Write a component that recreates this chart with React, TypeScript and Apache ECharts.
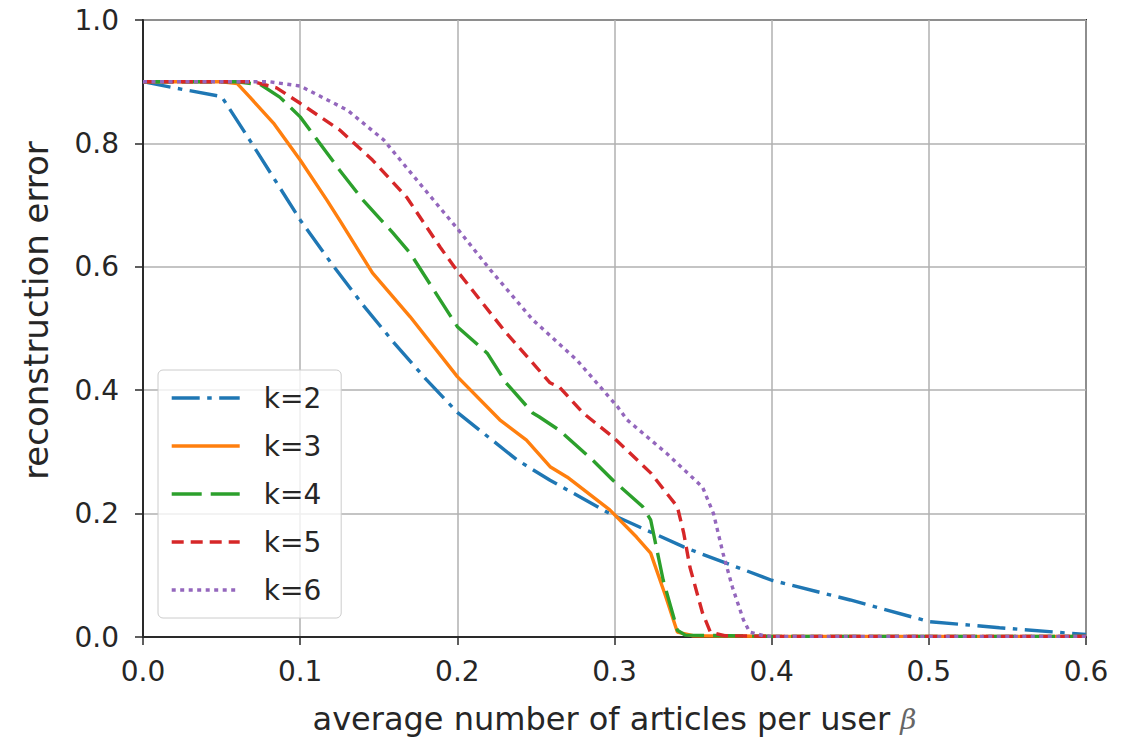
import React, { useEffect, useRef } from "react";
import * as echarts from "echarts";

const seriesNames = ["k=2", "k=3", "k=4", "k=5", "k=6"];
const colors = ["#1f77b4", "#ff7f0e", "#2ca02c", "#d62728", "#9467bd"];

const xK2 = [0, 0.02, 0.05, 0.068, 0.1, 0.12, 0.14, 0.16, 0.18, 0.2, 0.238, 0.259, 0.297, 0.344, 0.354, 0.4, 0.45, 0.5, 0.545, 0.6];
const yK2 = [0.9, 0.89, 0.876, 0.805, 0.676, 0.605, 0.538, 0.476, 0.418, 0.364, 0.287, 0.254, 0.2, 0.146, 0.136, 0.092, 0.06, 0.025, 0.015, 0.004];

const xK3 = [0, 0.05, 0.06, 0.068, 0.083, 0.1, 0.117, 0.125, 0.146, 0.17, 0.2, 0.227, 0.244, 0.259, 0.27, 0.297, 0.314, 0.323, 0.332, 0.34, 0.35, 0.4, 0.5, 0.6];
const yK3 = [0.9, 0.9, 0.897, 0.875, 0.833, 0.773, 0.708, 0.676, 0.59, 0.519, 0.422, 0.352, 0.319, 0.276, 0.259, 0.206, 0.162, 0.136, 0.07, 0.008, 0.002, 0.001, 0.001, 0.001];

const xK4 = [0, 0.06, 0.075, 0.087, 0.1, 0.125, 0.14, 0.159, 0.17, 0.2, 0.219, 0.231, 0.248, 0.252, 0.265, 0.286, 0.299, 0.318, 0.323, 0.331, 0.34, 0.345, 0.4, 0.6];
const yK4 = [0.9, 0.9, 0.895, 0.875, 0.843, 0.757, 0.708, 0.655, 0.622, 0.503, 0.46, 0.412, 0.363, 0.357, 0.335, 0.287, 0.254, 0.211, 0.19, 0.092, 0.011, 0.003, 0.001, 0.001];

const xK5 = [0, 0.07, 0.085, 0.1, 0.125, 0.146, 0.168, 0.189, 0.2, 0.231, 0.259, 0.265, 0.28, 0.3, 0.323, 0.34, 0.344, 0.348, 0.356, 0.361, 0.37, 0.4, 0.6];
const yK5 = [0.9, 0.9, 0.89, 0.865, 0.822, 0.773, 0.712, 0.632, 0.593, 0.493, 0.412, 0.405, 0.363, 0.322, 0.266, 0.211, 0.169, 0.113, 0.039, 0.008, 0.002, 0.001, 0.001];

const xK6 = [0, 0.08, 0.1, 0.13, 0.153, 0.178, 0.2, 0.221, 0.248, 0.276, 0.302, 0.308, 0.333, 0.356, 0.363, 0.369, 0.375, 0.382, 0.386, 0.395, 0.4, 0.6];
const yK6 = [0.9, 0.9, 0.893, 0.854, 0.806, 0.729, 0.662, 0.595, 0.514, 0.449, 0.373, 0.352, 0.298, 0.243, 0.2, 0.136, 0.081, 0.028, 0.008, 0.002, 0.001, 0.001];

const xValues = [xK2, xK3, xK4, xK5, xK6];
const yValues = [yK2, yK3, yK4, yK5, yK6];
const dashes: any[] = [[28, 7.5, 4.5, 7.5], "solid", [30, 9], [12, 7], [4, 4.5]];

const xAxisName = "average number of articles per user ";
const yAxisName = "reconstruction error";

const FONT = "DejaVu Sans";
const TXT = "#262626";

export default function App() {
  const ref = useRef<HTMLDivElement>(null);
  useEffect(() => {
    document.body.style.margin = "0";
    const chart = echarts.init(ref.current!, null, { renderer: "svg" });
    const series = seriesNames.map((name, i) => ({
      name,
      type: "line",
      data: xValues[i].map((x, j) => [x, yValues[i][j]]),
      showSymbol: false,
      symbol: "none",
      z: 2 + i,
      lineStyle: { color: colors[i], width: 3.4, type: dashes[i], cap: "butt" },
      itemStyle: { color: colors[i] },
      emphasis: { disabled: true },
    }));
    chart.setOption({
      animation: false,
      backgroundColor: "#ffffff",
      grid: {
        left: 143,
        right: 52,
        top: 20,
        bottom: 104,
        show: true,
        borderColor: "#2a2a2a",
        borderWidth: 2,
        backgroundColor: "transparent",
      },
      legend: {
        orient: "vertical",
        left: 158,
        top: 370,
        itemWidth: 68,
        itemHeight: 28,
        itemGap: 20,
        padding: [14, 20, 14, 12],
        backgroundColor: "rgba(255,255,255,0.8)",
        borderColor: "#cccccc",
        borderWidth: 1,
        borderRadius: 5,
        itemStyle: { opacity: 0 },
        lineStyle: { width: 3.4 },
        textStyle: { fontFamily: FONT, fontSize: 28, color: TXT, padding: [0, 0, 0, 19] },
        data: seriesNames,
      },
      xAxis: {
        type: "value",
        min: 0,
        max: 0.6,
        interval: 0.1,
        name: xAxisName + "{b|β}",
        nameLocation: "middle",
        nameGap: 66,
        nameTextStyle: {
          fontFamily: FONT,
          fontSize: 32,
          color: TXT,
          rich: { b: { fontFamily: "DejaVu Serif", fontStyle: "italic", fontSize: 28, color: "#666" } },
        },
        axisLine: { show: true, lineStyle: { color: "#2a2a2a", width: 2 } },
        axisTick: { show: true, inside: false, length: 8, lineStyle: { color: "#2a2a2a", width: 1.5 } },
        axisLabel: {
          fontFamily: FONT,
          fontSize: 28,
          color: TXT,
          margin: 20,
          formatter: (v: number) => v.toFixed(1),
        },
        splitLine: { show: true, lineStyle: { color: "#b0b0b0", width: 1.5 } },
      },
      yAxis: {
        type: "value",
        min: 0,
        max: 1,
        interval: 0.2,
        name: yAxisName,
        nameLocation: "middle",
        nameGap: 90,
        nameTextStyle: { fontFamily: FONT, fontSize: 34, color: TXT, padding: [0, 0, 0, 36] },
        axisLine: { show: true, lineStyle: { color: "#2a2a2a", width: 2 } },
        axisTick: { show: true, inside: false, length: 8, lineStyle: { color: "#2a2a2a", width: 1.5 } },
        axisLabel: {
          fontFamily: FONT,
          fontSize: 28,
          color: TXT,
          margin: 24,
          formatter: (v: number) => v.toFixed(1),
        },
        splitLine: { show: true, lineStyle: { color: "#b0b0b0", width: 1.5 } },
      },
      series,
    });
    return () => chart.dispose();
  }, []);
  return <div ref={ref} style={{ width: 1138, height: 741 }} />;
}
